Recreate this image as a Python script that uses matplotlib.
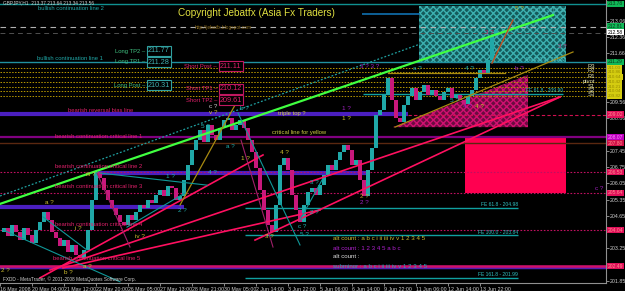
import matplotlib.pyplot as plt
from matplotlib.patches import Rectangle, Polygon
import numpy as np

plt.rcParams['font.family'] = ['Liberation Sans', 'DejaVu Sans']

W, H = 625, 291

# GBPJPY H1 closes, read every 4 bars
close = [203.96, 204.13, 203.79, 204.26, 203.96, 203.61, 204.13, 203.83, 203.48, 204.05,
         204.39, 204.82, 204.48, 203.96, 203.70, 203.36, 203.61, 203.10, 203.40, 202.97,
         202.84, 203.18, 204.05, 205.34, 206.54, 206.29, 205.77, 205.34, 204.99, 204.69,
         204.39, 204.26, 204.69, 204.48, 204.82, 205.12, 204.99, 205.34, 205.21, 205.55,
         205.77, 205.51, 205.94, 205.86, 205.34, 205.51, 206.20, 206.85, 207.49, 207.92,
         208.36, 207.84, 208.57, 208.14, 207.92, 208.44, 208.79, 208.87, 208.36, 208.57,
         208.79, 208.44, 207.92, 207.41, 206.72, 205.77, 204.91, 204.26, 203.96, 205.12,
         206.85, 207.15, 206.63, 205.55, 204.91, 204.39, 205.12, 205.68, 205.86, 205.55,
         205.98, 206.42, 206.85, 206.63, 207.06, 207.41, 207.71, 207.49, 206.85, 207.06,
         206.20, 205.51, 206.63, 207.58, 209.00, 209.22, 209.86, 210.60, 209.65, 208.87,
         208.70, 209.43, 209.82, 210.17, 209.65, 209.99, 210.29, 209.86, 210.08, 209.82,
         209.65, 209.99, 210.17, 209.73, 209.86, 209.65, 209.48, 209.82, 210.08, 210.60,
         210.94, 210.77, 211.37, 212.45, 212.67]
bar_x = np.arange(0, 4 * len(close), 4)

time_labels = ['16 May 2008', '20 May 04:00', '21 May 12:00', '22 May 20:00', '26 May 05:00',
               '27 May 13:00', '28 May 21:00', '30 May 05:00', '2 Jun 14:00', '3 Jun 22:00',
               '5 Jun 06:00', '6 Jun 14:00', '9 Jun 22:00', '11 Jun 06:00', '12 Jun 14:00',
               '13 Jun 22:00']
# only the scale labels not hidden behind price tags
price_ticks = [201.85, 203.25, 204.65, 205.35, 206.05, 206.75, 207.45,
               208.86, 209.56, 211.66, 212.36, 213.06]

# horizontal levels: price, from bar, to bar
teal_top = 213.79
fe_top = (213.36, 362, 420)
dash_levels = [212.79, 212.54]
bull_line1 = 211.29
pivots = [211.03, 210.86, 210.64, 210.42, 210.21, 210.04, 209.82]
pivot_names = ['R3', 'R2', 'R1', 'pivot', 'S1', 'S2', 'S3']
bias_bars = [(209.04, 0, 408), (206.50, 98, 368), (205.04, 0, 184)]
crit1 = 208.04
yellow_crit = 207.79
pink_dotted = [206.54, 205.64, 204.04]
crit5 = 202.49
fe_levels = [(204.98, 245, 518), (203.84, 245, 518), (201.99, 245, 518), (209.91, 363, 563)]
fe_names = ['FE 61.8 - 204.98', 'FE 100.0 - 203.84', 'FE 161.8 - 201.99', 'FE 61.8 - 209.90']

long_levels = [211.77, 211.28, 210.31]
long_names = ['Long TP2', 'Long TP1', 'Long Post']
short_levels = [211.11, 210.12, 209.61]
short_names = ['Short Post', 'Short TP1', 'Short TP2']

# trendlines (bar, price) -> (bar, price)
green_line = [(0, 205.17), (553, 213.31)]
teal_dotted = [(0, 205.51), (420, 212.06)]
pink_lines = [[(40, 201.98), (263, 207.28)], [(50, 202.32), (560, 209.78)],
              [(255, 203.61), (560, 209.78)], [(63, 202.41), (320, 204.91)]]
gold_lines = [[(395, 208.48), (573, 211.72)], [(388, 210.81), (505, 210.81)],
              [(180, 205.12), (235, 209.43)]]
orange_line = [(492, 211.24), (513, 213.10)]
teal_thin = [[(3, 204.05), (120, 201.81)], [(43, 204.61), (87, 203.18)],
             [(100, 206.50), (207, 205.98)], [(238, 209.09), (300, 203.40)],
             [(300, 204.48), (322, 206.20)], [(127, 204.17), (185, 205.64)]]
magenta_thin = [[(97, 206.50), (130, 203.31)], [(241, 207.92), (273, 203.31)]]

# zones
teal_zone = (419, 566, 211.24, 213.70)
pink_zone = (465, 566, 205.64, 208.05)
magenta_zone = [(393, 208.48), (528, 210.73), (528, 208.48)]

# price tags on the axis: price, text, background, text colour
tags = [(213.79, '213.78', '#10b858', '#0a3a1a'), (212.81, '212.81', '#10b858', '#0a3a1a'),
        (212.58, '212.58', '#ffffff', '#000000'), (211.29, '211.29', '#10b858', '#0a3a1a'),
        (209.02, '209.02', '#e0105a', '#ff9090'), (208.05, '208.07', '#c000c0', '#ff90ff'),
        (207.79, '207.80', '#d01048', '#ff9090'), (206.54, '206.53', '#e0105a', '#ff9090'),
        (205.64, '205.64', '#e0105a', '#ff9090'), (204.04, '204.04', '#e0105a', '#ff9090'),
        (202.49, '202.49', '#e0105a', '#ff9090')]

fig = plt.figure(figsize=(W / 100, H / 100), dpi=100, facecolor='black')
ax = fig.add_axes([0.0, 8 / H, 606 / W, 283 / H], facecolor='black')
ax.set_xlim(0, 606)
ax.set_ylim(201.76, 213.96)

# zones
x0, x1, y0, y1 = teal_zone
ax.add_patch(Rectangle((x0, y0), x1 - x0, y1 - y0, facecolor='#145a5a', edgecolor='#3cb0b0',
                       hatch='xxxxx', lw=0, zorder=1))
x0, x1, y0, y1 = pink_zone
ax.add_patch(Rectangle((x0, y0), x1 - x0, y1 - y0, facecolor='#ff0050', lw=0, zorder=1))
ax.add_patch(Polygon(magenta_zone, closed=True, facecolor='#6a0c40', edgecolor='#d01070',
                     hatch='xxxxx', lw=0, zorder=1))

# horizontal levels
ax.axhline(teal_top, color='#109090', lw=1, zorder=2)
ax.hlines(fe_top[0], fe_top[1], fe_top[2], color='#1070b0', lw=1.2, zorder=2)
ax.axhline(dash_levels[0], color='#b0b0b0', lw=0.8, ls=(0, (5, 4)), zorder=2)
ax.axhline(dash_levels[1], color='#505050', lw=0.7, ls=(0, (5, 4)), zorder=2)
ax.axhline(bull_line1, color='#2090a0', lw=1, zorder=2)
for p in pivots:
    ax.axhline(p, color='#b89800', lw=0.7, ls=(0, (1.5, 1.5)), zorder=2)
for p, a, b in bias_bars:
    ax.hlines(p, a, b, color='#4b1fc0', lw=3, zorder=2)
ax.hlines(bias_bars[0][0] - 0.02, bias_bars[0][2], 606, color='#d01050', lw=0.8,
          ls=(0, (3, 2)), zorder=2)
ax.axhline(crit1, color='#800080', lw=1.6, zorder=2)
ax.axhline(yellow_crit, color='#5a2810', lw=1, zorder=2)
for p in pink_dotted:
    ax.axhline(p, color='#c01060', lw=0.8, ls=(0, (1.5, 1.5)), zorder=2)
ax.axhline(crit5 - 0.05, color='#5020b0', lw=2.5, zorder=2)
ax.axhline(crit5, color='#d0106a', lw=1.8, zorder=2)
for p, a, b in fe_levels:
    ax.hlines(p, a, b, color='#10a0a0', lw=1, zorder=2)

# candles
for i in range(1, len(close)):
    o, c = close[i - 1], close[i]
    col = '#20a8a8' if c >= o else '#c8187c'
    ax.bar(bar_x[i], max(abs(c - o), 0.04), bottom=min(o, c), width=3.4, color=col,
           lw=0, zorder=3)

# trendlines
def seg(pts, **kw):
    ax.plot([pts[0][0], pts[1][0]], [pts[0][1], pts[1][1]], **kw)

seg(green_line, color='#40ff40', lw=1.6, zorder=4)
seg(teal_dotted, color='#20a0a0', lw=0.9, ls=(0, (1.5, 1.5)), zorder=4)
for pl in pink_lines:
    seg(pl, color='#ff1060', lw=1.2, zorder=4)
for gl in gold_lines:
    seg(gl, color='#a88a10', lw=0.9, zorder=4)
seg(orange_line, color='#c05020', lw=1, zorder=4)
for tl in teal_thin:
    seg(tl, color='#109898', lw=0.8, zorder=4)
for ml in magenta_thin:
    seg(ml, color='#a0206a', lw=0.8, zorder=4)

# axes styling
ax.yaxis.tick_right()
ax.set_yticks(price_ticks)
ax.set_yticklabels(['%.2f' % t for t in price_ticks])
ax.set_xticks(np.arange(0, 32 * len(time_labels), 32))
ax.set_xticklabels(time_labels, ha='left')
ax.tick_params(colors='#a0a0a0', labelsize=3.8, length=2, width=0.6, pad=1)
ax.tick_params(axis='y', labelcolor='#d0d0d0')
ax.tick_params(axis='x', labelcolor='#d0d0d0')
for s in ['top', 'left']:
    ax.spines[s].set_visible(False)
for s in ['right', 'bottom']:
    ax.spines[s].set_color('#909090')
    ax.spines[s].set_linewidth(0.8)

for p, s, bg, tc in tags:
    ax.text(1.003, p, s, transform=ax.get_yaxis_transform(), fontsize=3.6, color=tc,
            va='center', ha='left', clip_on=False, zorder=6,
            bbox=dict(facecolor=bg, edgecolor='none', pad=0.6))
for p in pivots:
    ax.text(1.003, p, '%.2f' % p, transform=ax.get_yaxis_transform(), fontsize=3.2,
            color='#988c00', va='center', ha='left', clip_on=False, zorder=6,
            bbox=dict(facecolor='#d4cc10', edgecolor='none', pad=0.9))

# text helper in pixel space
def lab(x, y, s, color, size=4.2, ha='left', **kw):
    fig.text(x / W, 1 - y / H, s, color=color, fontsize=size, ha=ha, va='center', **kw)

lab(3, 3, 'GBPJPY,H1  213.37 213.64 213.34 213.56', '#d0d0d0', 3.4)
lab(178, 13, 'Copyright Jebatfx (Asia Fx Traders)', '#e0e040', 7.2)
lab(195, 27, 'http://jebatfx.blogspot.com', '#907020', 3.4)
lab(38, 9, 'bullish continuation line 2', '#20a8a8')
lab(37, 58, 'bullish continuation line 1', '#20a8a8')

for p, name, yy in zip(long_levels, long_names, [51, 62, 85]):
    lab(145, yy, name + ' \u2013', '#40c080', ha='right')
    lab(148, yy, '%.2f' % p, '#40b0b0', 5.2,
        bbox=dict(facecolor='black', edgecolor='#30a0a0', pad=0.8, lw=0.8))
for p, name, yy in zip(short_levels, short_names, [66, 89, 100]):
    lab(217, yy, name + ' \u2013', '#e0206a', ha='right')
    lab(220, yy, '%.2f' % p, '#e0206a', 5.2,
        bbox=dict(facecolor='black', edgecolor='#c01860', pad=0.8, lw=0.8))

lab(68, 110, 'bearish reversal bias line', '#e0206a')
lab(278, 113, 'triple top ?', '#d0d040')
lab(55, 136, 'bearish continuation critical line 1', '#e0206a')
lab(272, 133, 'critical line for yellow', '#d0d040')
lab(55, 167, 'bearish continuation critical line 2', '#e0206a')
lab(55, 187, 'bearish continuation critical line 3', '#e0206a')
lab(55, 224, 'bearish continuation critical line 4', '#e0206a')
lab(53, 259, 'bearish continuation critical line 5', '#e0206a')

for name, yy, xr in zip(fe_names, [205, 232, 275, 90], [518, 518, 518, 563]):
    lab(xr, yy, name, '#30c0c0', 3.6, ha='right')
lab(565, 10, 'FE 61.8 - 213.35', '#50c0c0', 3.6, ha='right')
lab(565, 60, 'FE 100.0 - 211.32', '#50c0c0', 3.6, ha='right')

for name, yy in zip(pivot_names, [67, 71, 76, 81, 86, 90, 95]):
    lab(595, yy, name, '#e0e0b0', 4.2, ha='right')

waves = [(209, 107, 'c ?', '#d0d0d0'), (209, 113, 'v ?', '#d0c030'), (240, 108, 'b ?', '#20b0b0'),
         (201, 126, '5 ?', '#20b0b0'), (342, 108, '1 ?', '#a020c0'), (342, 118, '1 ?', '#d0c030'),
         (360, 66, '3 ? 3 ?', '#a020c0'), (413, 68, 'a ?', '#20b0b0'), (465, 68, '4 ?', '#20b0b0'),
         (515, 68, 'b ?', '#a020c0'), (463, 107, '4 ?', '#a020c0'), (475, 107, '4 ?', '#d0c030'),
         (450, 100, '5 ?', '#20b0b0'), (485, 32, '3 ?', '#c02060'), (515, 8, '5 ?', '#d0c030'),
         (558, 47, '3 ?', '#a02060'), (45, 203, 'a ?', '#d0c030'), (75, 229, 'i ?', '#d0c030'),
         (64, 272, 'b ?', '#d0c030'), (83, 267, 'a ?', '#d0c030'), (86, 175, 'iii ?', '#d0c030'),
         (166, 177, '1 ?', '#20b0b0'), (178, 210, '2 ?', '#20b0b0'), (135, 236, 'iv ?', '#d0c030'),
         (208, 172, '4 ?', '#20b0b0'), (226, 146, 'a ?', '#20b0b0'), (241, 159, '1 ?', '#d0c030'),
         (280, 153, '4 ?', '#d0c030'), (265, 236, '3 ?', '#d0c030'), (300, 235, '5 ?', '#20b0b0'),
         (298, 226, 'c ?', '#20b0b0'), (310, 182, '3 ?', '#20b0b0'), (310, 212, '2 ?', '#20b0b0'),
         (360, 196, '2 ?', '#d0a030'), (360, 203, '2 ?', '#a020c0'), (595, 188, 'c ?', '#a020c0'),
         (1, 270, '2 ?', '#d0c030')]
for x, y, s, c in waves:
    lab(x, y, s, c, 4.6)

lab(333, 239, 'alt count : a b c i ii iii iv v 1 2 3 4 5', '#d0c030', 4.4)
lab(333, 248, 'alt count : 1 2 3 4 5 a b c', '#b020d0', 4.4)
lab(333, 257, 'alt count :', '#e0e0e0', 4.4)
lab(333, 266, 'subminor : a b c i ii iii iv v 1 2 3 4 5', '#20a8c0', 4.4)
lab(3, 279, 'FXDD - MetaTrader, \u00a9 2001-2008 MetaQuotes Software Corp.', '#d0d0d0', 3.4)

plt.savefig('out.png', dpi=100, facecolor='black')
